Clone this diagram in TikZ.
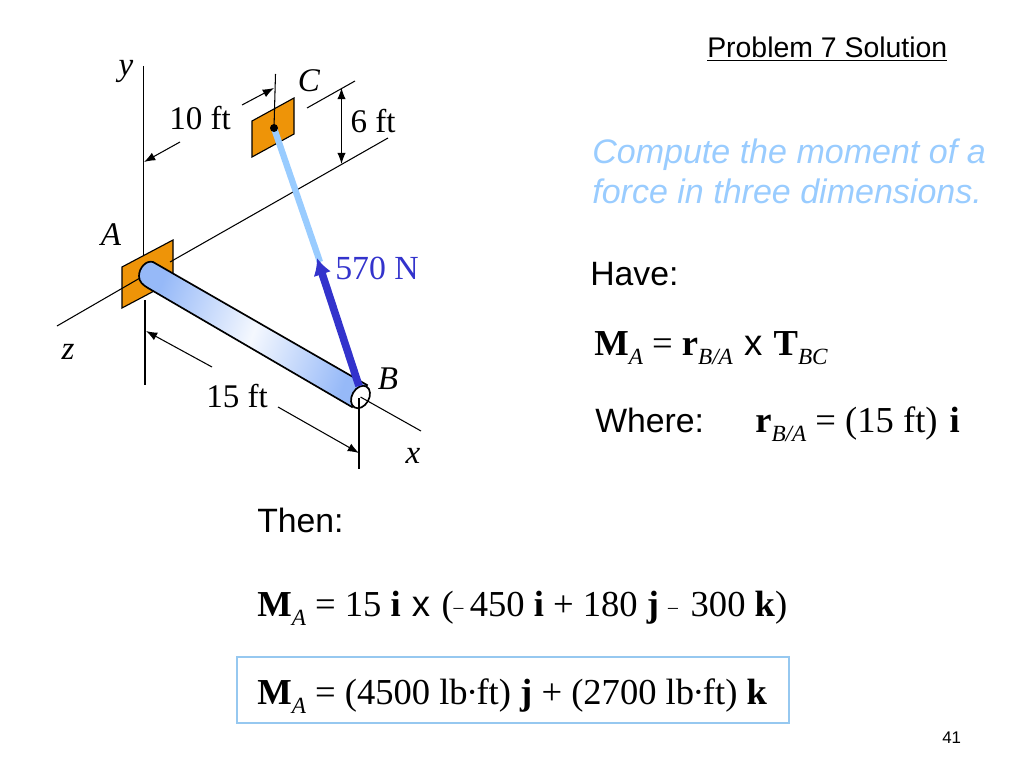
\documentclass[tikz,border=0pt]{standalone}
\usepackage{fontspec}
\setmainfont{Liberation Serif}
\newfontfamily\arialfont{Liberation Sans}
\usetikzlibrary{arrows.meta}
\definecolor{plateorange}{RGB}{238,148,8}
\definecolor{cableblue}{RGB}{153,204,255}
\definecolor{forceblue}{RGB}{51,51,204}
\definecolor{rodblue}{RGB}{150,185,248}
\definecolor{boxblue}{RGB}{150,200,240}
\tikzset{
  dimline/.style={line width=0.75pt},
  dimarrow/.style={line width=0.75pt,-{Latex[length=8pt,width=6pt]}},
  plate/.style={draw,fill=plateorange,line width=0.8pt},
  lbl/.style={font=\fontsize{23.5}{26}\selectfont,inner sep=0pt},
  axislbl/.style={font=\fontsize{23.5}{26}\selectfont\itshape,inner sep=0pt},
  sans/.style={font=\fontsize{24}{26}\selectfont\arialfont,inner sep=0pt,anchor=base west},
  eqn/.style={font=\fontsize{26}{28}\selectfont,inner sep=0pt,anchor=base west}
}
\newcommand{\subs}[1]{\raisebox{-6.5pt}{\fontsize{16.5}{16}\selectfont\itshape #1}}
\newcommand{\crossx}{\kern1.5pt{\arialfont x}\kern1.5pt}
\newcommand{\dash}{{\fontsize{14}{14}\selectfont\raisebox{1.5pt}{--}}}
\newcommand{\lbft}{lb\kern-1.2pt·\kern-1.2pt ft}
\begin{document}
\begin{tikzpicture}[x=0.025cm,y=-0.025cm]
  \useasboundingbox (0,0) rectangle (1024,768);
  % named points of the drawing
  \coordinate (ytop) at (143.5,66);
  \coordinate (ymid) at (143.5,255);
  \coordinate (ylow) at (145,300);
  \coordinate (ybot) at (145,385);
  \coordinate (zend) at (57,326);
  \coordinate (zin) at (140,278);
  \coordinate (zout) at (170,262);
  \coordinate (zfar) at (388,138);
  \coordinate (B) at (360.5,397);
  \coordinate (xend) at (421,431);
  \coordinate (C) at (274,128);
  % axes and plates
  \draw[dimline] (ytop) -- (ymid);
  \draw[dimline] (ylow) -- (ybot);
  \draw[plate] (122,267) -- (173,240) -- (173,281) -- (122,308) -- cycle;
  \draw[plate] (252,121) -- (294,98) -- (294,134) -- (252,157) -- cycle;
  \draw[dimline] (zend) -- (zin);
  \draw[dimline] (zout) -- (zfar);
  % the rod
  \draw[line width=1.2pt,left color=rodblue,right color=rodblue,middle color=white!90!rodblue,shading angle=70]
    (153,262) -- (367,385) -- (352,407) -- (148,288)
    .. controls (143,285) and (139,282) .. (139,276)
    .. controls (139,268) and (146,260) .. (153,262) -- cycle;
  \draw[line width=1.2pt,fill=white,rotate around={-30:(B)}] (B) ellipse (8.5 and 12);
  \draw[dimline] (B) -- (xend);
  \draw[dimline] (359,398) -- (359,469);
  % cable and force
  \draw[line width=4.5pt,cableblue] (C) -- (320,262);
  \fill (C) circle (4);
  \draw[dimline] (275.5,74) -- (C);
  \draw[line width=5.4pt,forceblue,-{Latex[length=12pt,width=13pt]}] (359,386) -- (317,258);
  % dimensions
  \draw[dimarrow] (180,142) -- (144,162);
  \draw[dimarrow] (242,105) -- (274,88);
  \draw[dimline] (307,108) -- (355,81);
  \draw[line width=0.75pt,{Latex[length=8pt,width=6pt]}-{Latex[length=8pt,width=6pt]}] (341.5,88) -- (341.5,164);
  \draw[dimarrow] (212,367) -- (146,331);
  \draw[dimarrow] (278,407) -- (359,453);
  % labels of the drawing
  \node[axislbl] (lbly) at (126,71) {y};
  \node[axislbl] (lblC) at (309,81) {C};
  \node[lbl] (lblten) at (200,118) {10 ft};
  \node[lbl] (lblsix) at (373,121) {6 ft};
  \node[axislbl] (lblA) at (111,235) {A};
  \node[axislbl] (lblz) at (68,352) {z};
  \node[lbl,text=forceblue,font=\fontsize{24}{26}\selectfont] (lblforce) at (377,268) {570 N};
  \node[axislbl] (lblB) at (388,379) {B};
  \node[lbl] (lblfifteen) at (237,396) {15 ft};
  \node[axislbl] (lblx) at (413,456) {x};
  % text on the right
  \node[sans,font=\fontsize{20.2}{22}\selectfont\arialfont] (title) at (707,58) {\underline{Problem 7 Solution}};
  \node[sans,font=\fontsize{24.2}{26}\selectfont\arialfont\itshape,text=cableblue] (aim1) at (592,163) {Compute the moment of a};
  \node[sans,font=\fontsize{24.2}{26}\selectfont\arialfont\itshape,text=cableblue] (aim2) at (592,203) {force in three dimensions.};
  \node[sans] (have) at (590,285) {Have:};
  \node[eqn] (eqnone) at (594,355) {\textbf{M}\subs{A} = \textbf{r}\subs{B/A} \crossx{} \textbf{T}\subs{BC}};
  \node[sans] (where) at (595,432) {Where:};
  \node[eqn] (eqntwo) at (755,432) {\textbf{r}\subs{B/A} = (15 ft)\kern2pt{} \textbf{i}};
  \node[sans] (then) at (257,532) {Then:};
  \node[eqn] (eqnthree) at (257,616) {\textbf{M}\subs{A} = 15 \textbf{i} \crossx{} (\dash{}\kern4.5pt450 \textbf{i} + 180 \textbf{j} \dash{}\kern2.5pt{} 300 \textbf{k})};
  \draw[boxblue,line width=0.8pt] (237,657) rectangle (789,723);
  \node[eqn] (eqnfour) at (257,704) {\textbf{M}\subs{A} = (4500 \lbft) \textbf{j} + (2700 \lbft) \textbf{k}};
  \node[sans,font=\fontsize{12}{14}\selectfont\arialfont] (pageno) at (942,743) {41};
\end{tikzpicture}
\end{document}
